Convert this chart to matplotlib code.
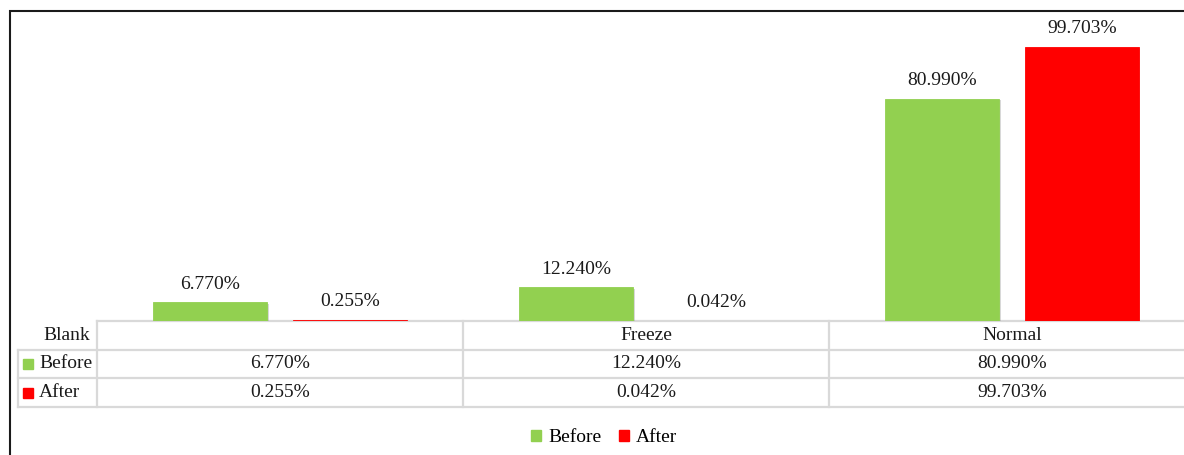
#
# Bar chart with data table: Before / After percentages per state
#

import matplotlib
matplotlib.use("Agg")
import matplotlib.pyplot as plt
import matplotlib.patheffects as pe
from matplotlib.patches import Rectangle, Patch

# Data
categories = ["Blank", "Freeze", "Normal"]
series_names = ["Before", "After"]
before = [6.770, 12.240, 80.990]
after = [0.255, 0.042, 99.703]
colors = ["#92d050", "#ff0000"]

plt.rcParams["font.family"] = ["Liberation Serif", "DejaVu Serif"]
FS = 14
GRID = "#d9d9d9"

W, H = 1184, 455
fig = plt.figure(figsize=(W / 100, H / 100), dpi=100)

# Axes placement in pixels (left edge 97, right 1195 runs off the image)
left = 97 / W
width = (1195 - 97) / W
ax = fig.add_axes([left, (H - 321) / H, width, (321 - 15) / H])
tab = fig.add_axes([left, (H - 407) / H, width, (407 - 321) / H])
ax.set_zorder(3)  # keep the thin bars above the table's top line

# Bars
offset = 0.191
bw = 0.311
shadow = [pe.SimplePatchShadow(offset=(1.2, -1.2), shadow_rgbFace="gray", alpha=0.3), pe.Normal()]
for k, (vals, col) in enumerate(zip([before, after], colors)):
    xs = [i + (offset if k else -offset) for i in range(len(categories))]
    bars = ax.bar(xs, vals, width=bw, color=col, edgecolor=col, lw=0.6, zorder=2)
    for b in bars:
        b.set_path_effects(shadow)
    for x, v in zip(xs, vals):
        ax.annotate(f"{v:.3f}%", (x, v), xytext=(0, 10), textcoords="offset points",
                    ha="center", va="baseline", fontsize=FS, color="#1a1a1a")

ax.set_xlim(-0.5, 2.5)
ax.set_ylim(0, 111.5)
ax.axis("off")

# Data table below the bars
tab.set_xlim(-0.5, 2.5)
tab.set_ylim(3, 0)
tab.axis("off")
px = 1 / 366  # one pixel in category units
hdr_left = -0.5 - 79 * px
lw = 1.6

tab.plot([-0.5, 2.5], [0, 0], color=GRID, lw=lw, clip_on=False)
for yy in [1, 2, 3]:
    tab.plot([hdr_left, 2.5], [yy, yy], color=GRID, lw=lw, clip_on=False)
tab.plot([hdr_left, hdr_left], [1, 3], color=GRID, lw=lw, clip_on=False)
for xx in [-0.5, 0.5, 1.5, 2.5]:
    tab.plot([xx, xx], [0, 3], color=GRID, lw=lw, clip_on=False)

# Header row (first category label sits in the row-header column)
tab.text(-0.5 - 7 * px, 0.5, categories[0], ha="right", va="center", fontsize=FS, color="#1a1a1a")
for i, c in enumerate(categories[1:], start=1):
    tab.text(i, 0.5, c, ha="center", va="center", fontsize=FS, color="#1a1a1a")

# Value rows
for r, (name, vals, col) in enumerate(zip(series_names, [before, after], colors), start=1):
    tab.plot([hdr_left + 10 * px], [r + 0.5], marker="s", ms=7.2, color=col, clip_on=False)
    tab.text(hdr_left + 21 * px, r + 0.5, name, ha="left", va="center", fontsize=FS, color="#1a1a1a")
    for i, v in enumerate(vals):
        tab.text(i, r + 0.5, f"{v:.3f}%", ha="center", va="center", fontsize=FS, color="#1a1a1a")

# Legend at the bottom
handles = [Patch(color=c, label=n) for n, c in zip(series_names, colors)]
fig.legend(handles=handles, loc="center", bbox_to_anchor=(604 / W, 17 / H), ncol=2,
           frameon=False, fontsize=FS, handlelength=0.55, handleheight=0.55,
           handletextpad=0.35, columnspacing=0.9)

# Outer frame (left and top visible, rest runs off the picture)
top = (H - 11) / H
fig.patches.append(Rectangle((10 / W, -0.2), 1.2, top + 0.2,
                             transform=fig.transFigure, fill=False, lw=1.5, ec="#1a1a1a"))

fig.savefig("out.png", dpi=100)
